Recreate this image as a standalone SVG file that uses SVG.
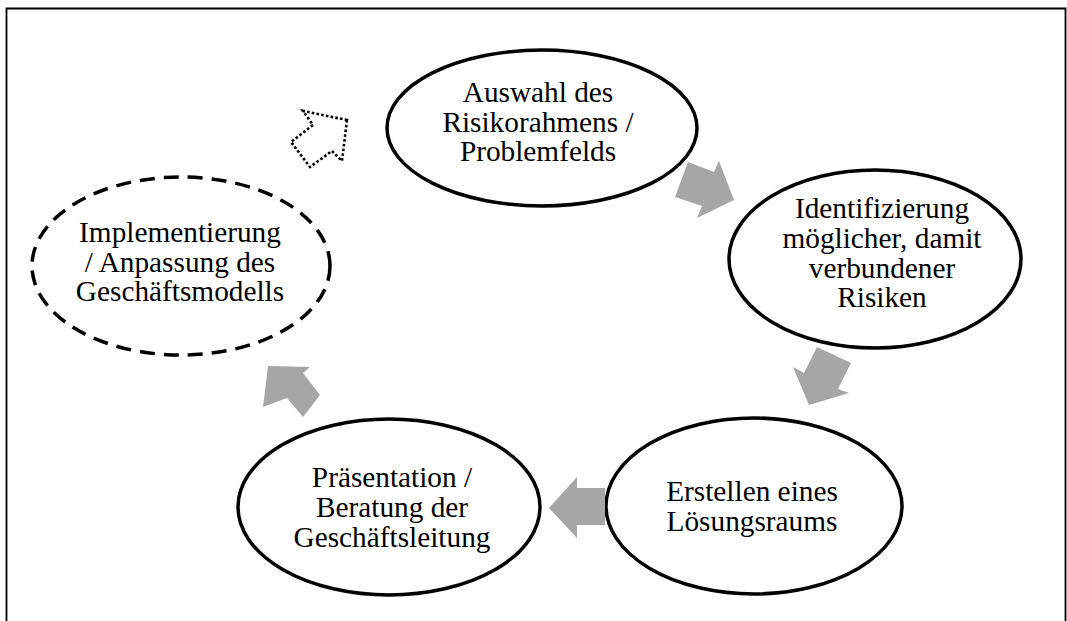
<svg xmlns="http://www.w3.org/2000/svg" width="1067" height="621" viewBox="0 0 1067 621">
<style>
.n{fill:#fff;stroke:#000;stroke-width:3.5}
.d{stroke-dasharray:15 9}
.t{font-family:"Liberation Serif","Times New Roman",serif;font-size:29.3px;fill:#000;text-anchor:middle}
.a{fill:#a6a6a6;stroke:none}
.o{fill:none;stroke:#000;stroke-width:2.6;stroke-dasharray:2.6 2.2}
</style>
<rect width="1067" height="621" fill="#fff"/>
<path d="M6.5 630 V8.5 H1065.5 V630" fill="none" stroke="#000" stroke-width="1.8"/>
<g id="n1"><ellipse class="n" cx="542" cy="128" rx="155" ry="78"/>
<text class="t"><tspan x="538" y="102">Auswahl des</tspan><tspan x="538" y="131.5">Risikorahmens /</tspan><tspan x="538" y="161">Problemfelds</tspan></text></g>
<g id="n2"><ellipse class="n" cx="875" cy="259" rx="146" ry="89"/>
<text class="t"><tspan x="882" y="218">Identifizierung</tspan><tspan x="882" y="248">möglicher, damit</tspan><tspan x="882" y="277.5">verbundener</tspan><tspan x="882" y="307">Risiken</tspan></text></g>
<g id="n3"><ellipse class="n" cx="754" cy="506" rx="148" ry="88"/>
<text class="t"><tspan x="752" y="501">Erstellen eines</tspan><tspan x="752" y="530.5">Lösungsraums</tspan></text></g>
<g id="n4"><ellipse class="n" cx="389" cy="507" rx="151" ry="88"/>
<text class="t"><tspan x="392" y="487">Präsentation /</tspan><tspan x="392" y="517">Beratung der</tspan><tspan x="392" y="546.5">Geschäftsleitung</tspan></text></g>
<g id="n5"><ellipse class="n d" cx="181" cy="266" rx="149" ry="89"/>
<text class="t"><tspan x="180" y="241.5">Implementierung</tspan><tspan x="180" y="271.5">/ Anpassung des</tspan><tspan x="180" y="301">Geschäftsmodells</tspan></text></g>
<g id="connectors">
<polygon class="o" points="347,120 342,161 332,151 310,167 291,142 313,125 303,111"/>
<polygon class="a" points="688,162 714,172 719,161 734,200 697,218 702,206 675,197"/>
<polygon class="a" points="817,347 851,363 838,389 849,393 809,405 793,367 804,373"/>
<polygon class="a" points="605,488 577,488 577,477 549,508 577,538 577,525 605,525"/>
<polygon class="a" points="268,366 310,367 303,373 320,395 303,417 287,398 263,407"/>
</g>
</svg>
